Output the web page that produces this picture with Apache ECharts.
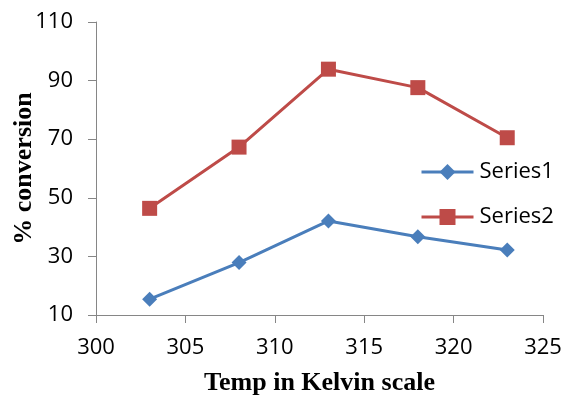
<!DOCTYPE html>
<html><head><meta charset="utf-8">
<script src="https://cdn.jsdelivr.net/npm/echarts@6/dist/echarts.min.js"></script>
<style>html,body{margin:0;padding:0;background:#fff}#c{width:565px;height:401px}</style>
</head><body><div id="c"></div>
<script>
const temps = [303, 308, 313, 318, 323];
const series1 = [15.4, 27.9, 42.1, 36.7, 32.2];
const series2 = [46.4, 67.3, 93.9, 87.6, 70.5];
const xTicks = [300, 305, 310, 315, 320, 325];
const yTicks = [10, 30, 50, 70, 90, 110];

const chart = echarts.init(document.getElementById('c'));
const tickFont = {fontFamily: 'Open Sans, Noto Sans, sans-serif', fontSize: 22, color: '#000'};
const axisLine = {show: true, lineStyle: {color: '#868686', width: 1}};
chart.setOption({
  animation: false,
  grid: {left: 96, right: 22, top: 22, bottom: 86, containLabel: false, outerBoundsMode: 'none'},
  legend: {
    orient: 'vertical', left: 420, top: 161, padding: 0, itemGap: 23, itemWidth: 52, itemHeight: 20,
    textStyle: {fontFamily: 'Open Sans, Noto Sans, sans-serif', fontSize: 22, color: '#000', padding: [0,0,0,1]},
    lineStyle: {width: 3},
    data: ['Series1', 'Series2']
  },
  xAxis: {
    type: 'value', min: xTicks[0], max: xTicks[xTicks.length-1], interval: 5,
    name: 'Temp in Kelvin scale', nameLocation: 'middle', nameGap: 55, nameMoveOverlap: false,
    nameTextStyle: {fontFamily: 'Liberation Serif, serif', fontWeight: 'bold', fontSize: 26, color: '#000'},
    axisLine: axisLine, axisTick: {show: true, length: 8, lineStyle: {color: '#868686'}},
    axisLabel: Object.assign({margin: 22}, tickFont), splitLine: {show: false}
  },
  yAxis: {
    type: 'value', min: yTicks[0], max: yTicks[yTicks.length-1], interval: 20,
    name: '% conversion', nameLocation: 'middle', nameGap: 59, nameRotate: 90, nameMoveOverlap: false,
    nameTextStyle: {fontFamily: 'Liberation Serif, serif', fontWeight: 'bold', fontSize: 26, color: '#000'},
    axisLine: axisLine, axisTick: {show: true, length: 8, lineStyle: {color: '#868686'}},
    axisLabel: Object.assign({margin: 23}, tickFont), splitLine: {show: false}
  },
  series: [
    {name: 'Series1', type: 'line', symbol: 'diamond', symbolSize: 15,
     data: temps.map((t,i)=>[t, series1[i]]),
     lineStyle: {color: '#4a7ebb', width: 3}, itemStyle: {color: '#4a7ebb'}},
    {name: 'Series2', type: 'line', symbol: 'rect', symbolSize: 15,
     data: temps.map((t,i)=>[t, series2[i]]),
     lineStyle: {color: '#be4b48', width: 3}, itemStyle: {color: '#be4b48'}}
  ]
});
</script></body></html>
